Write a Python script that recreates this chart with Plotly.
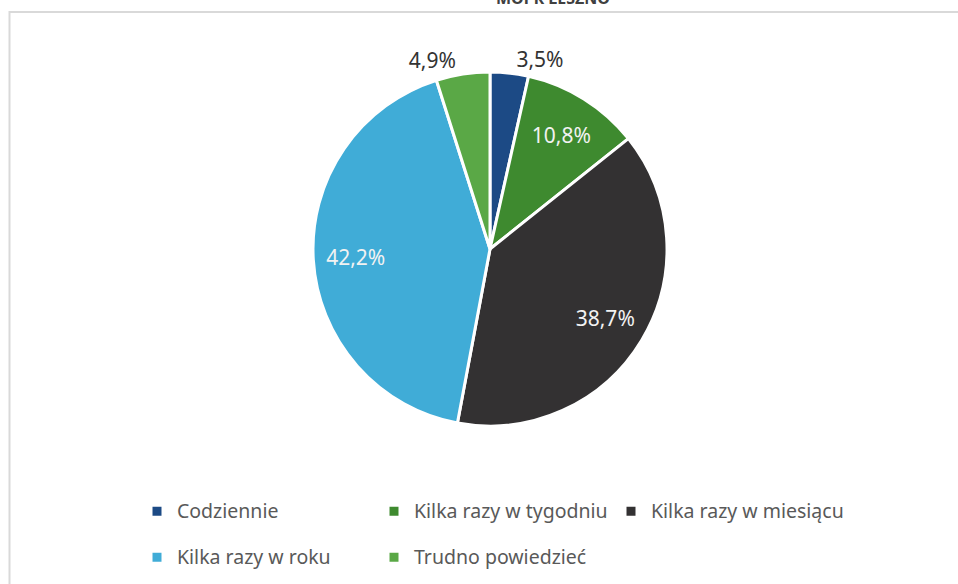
import plotly.graph_objects as go

categories = ["Codziennie", "Kilka razy w tygodniu", "Kilka razy w miesiącu",
              "Kilka razy w roku", "Trudno powiedzieć"]
values = [3.5, 10.8, 38.7, 42.2, 4.9]
label_text = ["3,5%", "10,8%", "38,7%", "42,2%", "4,9%"]
colors = ["#1c4a85", "#3e8a2f", "#333132", "#40acd7", "#5aa846"]
outside_pos = ["outside", "none", "none", "none", "outside"]
inside_pos = ["none", "inside", "inside", "inside", "none"]
title_text = "MOPR LESZNO"

W, H = 958, 584
RM = 158                 # right margin keeps the horizontal legend at three entries per row
PW = W - RM              # plot-area width in px
cx, cy, r = 490, 249, 177
dom = dict(x=[(cx - r) / PW, (cx + r) / PW], y=[1 - (cy + r) / H, 1 - (cy - r) / H])

# legend text drawn at 19.5px; the first row gets an empty second line so rows are spaced like the original
legend_labels = ['<span style="font-size:19.5px">' + c + "</span>" + ("<br> " if i < 3 else "")
                 for i, c in enumerate(categories)]

fig = go.Figure()
fig.add_trace(go.Pie(
    labels=legend_labels,
    values=values,
    text=label_text,
    textinfo="text",
    textposition=outside_pos,
    textfont=dict(family="Noto Sans", size=21, color="#333333"),
    sort=False,
    direction="clockwise",
    rotation=0,
    marker=dict(colors=colors, line=dict(color="white", width=3)),
    domain=dom,
    hoverinfo="text",
))
# transparent ring carrying the inside data labels (placed by plotly in the ring)
fig.add_trace(go.Pie(
    labels=legend_labels,
    values=values,
    text=label_text,
    textinfo="text",
    textposition=inside_pos,
    insidetextorientation="horizontal",
    textfont=dict(family="Noto Sans", size=21, color="#f2f2f2"),
    sort=False,
    direction="clockwise",
    rotation=0,
    hole=0.52,
    marker=dict(colors=["rgba(0,0,0,0)"] * len(values), line=dict(width=0)),
    domain=dom,
    showlegend=False,
    hoverinfo="skip",
))

fig.update_layout(
    width=W, height=H,
    margin=dict(l=0, r=RM, t=0, b=0, autoexpand=False),
    paper_bgcolor="white",
    plot_bgcolor="white",
    font=dict(family="Noto Sans", color="#404040"),
    legend=dict(orientation="h", x=137 / PW, xanchor="left", y=1 - 494 / H, yanchor="top",
                valign="top", bgcolor="rgba(0,0,0,0)",
                font=dict(family="Noto Sans", size=16.5, color="#595959"),
                entrywidth=192, traceorder="normal"),
    annotations=[dict(text="<b>" + title_text + "</b>", xref="paper", yref="paper",
                      x=553 / PW, y=1, xanchor="center", yanchor="middle", yshift=2,
                      showarrow=False, font=dict(family="Noto Sans", size=16, color="#404040"))],
    shapes=[dict(type="rect", xref="paper", yref="paper",
                 x0=9.5 / PW, x1=1.5, y0=-0.05, y1=1 - 12 / H,
                 line=dict(color="#d9d9d9", width=2), fillcolor="rgba(0,0,0,0)",
                 layer="below")],
)

fig.write_html("out.html", config={"displayModeBar": False},
               post_script="document.body.style.margin='0';document.body.style.overflow='hidden';")
